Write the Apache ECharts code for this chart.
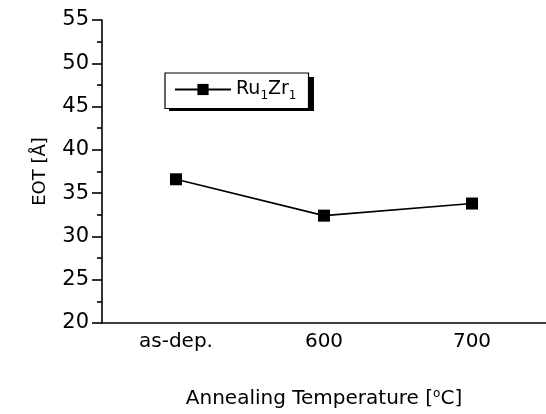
<!DOCTYPE html>
<html>
<head>
<meta charset="utf-8">
<script src="https://cdn.jsdelivr.net/npm/echarts@6/dist/echarts.min.js"></script>
<style>
  html, body { margin: 0; padding: 0; background: #fff; }
  #main { width: 546px; height: 414px; }
</style>
</head>
<body>
<div id="main"></div>
<script>
// values
var categories = ['as-dep.', '600', '700'];
var eot = [36.6, 32.4, 33.8];
var seriesName = 'Ru1Zr1';

var yMin = 20, yMax = 55, yStep = 5;

var font = 'DejaVu Sans';

var chart = echarts.init(document.getElementById('main'));

var option = {
    backgroundColor: '#fff',
    animation: false,
    grid: { left: 102, right: 0, top: 20, bottom: 90 },
    // drop shadow of the legend box
    graphic: [
        {
            type: 'rect',
            left: 169,
            top: 77,
            shape: { width: 145, height: 34 },
            style: { fill: '#000' },
            z: 0
        }
    ],
    legend: {
        left: 165,
        top: 73,
        z: 10,
        padding: [7, 12, 7, 9],
        backgroundColor: '#fff',
        borderColor: '#000',
        borderWidth: 1.2,
        borderRadius: 0,
        itemWidth: 56,
        itemHeight: 14,
        data: [seriesName],
        formatter: function () {
            return '{a|Ru}{s|1}{a|Zr}{s|1}';
        },
        textStyle: {
            rich: {
                a: { fontFamily: font, fontSize: 19, color: '#000' },
                s: { fontFamily: font, fontSize: 12, color: '#000', padding: [12, 0, 0, 0] }
            }
        }
    },
    xAxis: [
        {
            type: 'category',
            data: categories,
            position: 'bottom',
            axisLine: { lineStyle: { color: '#000', width: 1.6 } },
            axisTick: { alignWithLabel: true, length: 8, lineStyle: { color: '#000', width: 1.6 } },
            axisLabel: { color: '#000', fontFamily: font, fontSize: 20, margin: 9 },
            name: '{a|Annealing Temperature [}{s|o}{a|C]}',
            nameLocation: 'middle',
            nameGap: 65,
            nameTextStyle: {
                rich: {
                    a: { fontFamily: font, fontSize: 20, color: '#000' },
                    s: { fontFamily: font, fontSize: 12, color: '#000', padding: [0, 0, 10, 0] }
                }
            }
        },
        {
            type: 'category',
            data: categories,
            position: 'bottom',
            axisLine: { show: false },
            axisTick: { length: 4, lineStyle: { color: '#000', width: 1.6 } },
            axisLabel: { show: false }
        }
    ],
    yAxis: {
        type: 'value',
        min: yMin,
        max: yMax,
        interval: yStep,
        splitLine: { show: false },
        axisLine: { show: true, lineStyle: { color: '#000', width: 1.6 } },
        axisTick: { show: true, length: 10, lineStyle: { color: '#000', width: 1.6 } },
        minorTick: { show: true, splitNumber: 2, length: 5, lineStyle: { color: '#000', width: 1.6 } },
        axisLabel: { color: '#000', fontFamily: font, fontSize: 21, margin: 13 },
        name: 'EOT [Å]',
        nameLocation: 'middle',
        nameGap: 53,
        nameTextStyle: { color: '#000', fontFamily: font, fontSize: 18 }
    },
    series: [
        {
            name: seriesName,
            type: 'line',
            data: eot,
            symbol: 'rect',
            symbolSize: 12,
            itemStyle: { color: '#000' },
            lineStyle: { color: '#000', width: 1.6 }
        }
    ]
};

chart.setOption(option);
</script>
</body>
</html>
